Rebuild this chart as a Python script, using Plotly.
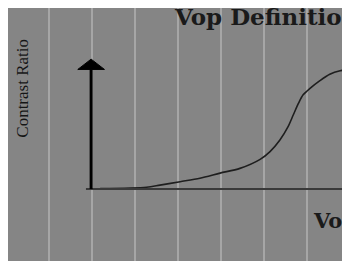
import plotly.graph_objects as go

# ---- data ----
voltage = [0.19, 1.27, 1.58, 2.05, 2.51, 2.98, 3.44, 3.91, 4.14, 4.37, 4.56,
           4.68, 4.80, 4.91, 5.07, 5.30, 5.53, 5.77, 6.0, 6.2]
contrast = [0.01, 0.04, 0.09, 0.17, 0.25, 0.37, 0.48, 0.69, 0.87, 1.14, 1.45,
            1.72, 1.99, 2.19, 2.34, 2.52, 2.67, 2.75, 2.78, 2.80]
title_text = "Vop Definition"
x_label = "Voltage"
y_label = "Contrast Ratio"

# ---- layout constants ----
X_RANGE = [-1.953, 6.186]
Y_RANGE = [-1.860, 4.209]
AXIS_X = -0.02
ARROW_TIP = 3.02
ARROW_BASE = 2.78
ARROW_HALF = 0.31
XAXIS_START = -0.14

BG = "#858585"
GRID = "#a6a6a6"

fig = go.Figure()
fig.add_trace(go.Scatter(
    x=voltage, y=contrast, mode="lines",
    line=dict(color="#1e1e1e", width=1.6, shape="spline", smoothing=0.8),
    hoverinfo="skip", showlegend=False,
))

fig.update_layout(
    width=350, height=261,
    margin=dict(l=0, r=0, t=0, b=0, pad=0),
    paper_bgcolor="white",
    plot_bgcolor=BG,
    showlegend=False,
    xaxis=dict(range=X_RANGE, showgrid=True, gridcolor=GRID, gridwidth=2,
               tick0=0, dtick=1, showticklabels=False, zeroline=False,
               showline=False, ticks=""),
    yaxis=dict(range=Y_RANGE, showgrid=False, showticklabels=False,
               zeroline=False, showline=False, ticks=""),
    shapes=[
        dict(type="line", xref="x", yref="y", x0=XAXIS_START, x1=X_RANGE[1],
             y0=0, y1=0, line=dict(color="#3a3a3a", width=2), layer="above"),
        dict(type="line", xref="x", yref="y", x0=AXIS_X, x1=AXIS_X,
             y0=0, y1=ARROW_BASE, line=dict(color="black", width=3), layer="above"),
        dict(type="path", xref="x", yref="y",
             path=f"M {AXIS_X-ARROW_HALF},{ARROW_BASE} L {AXIS_X},{ARROW_TIP} "
                  f"L {AXIS_X+ARROW_HALF},{ARROW_BASE} Z",
             fillcolor="black", line=dict(color="black", width=1), layer="above"),
    ],
    annotations=[
        dict(text=title_text, x=1.86, y=4.0, xref="x", yref="y",
             xanchor="left", yanchor="middle", showarrow=False,
             font=dict(family="DejaVu Serif", size=23, color="#1a1a1a", weight="bold")),
        dict(text=y_label, x=-1.62, y=2.34, xref="x", yref="y",
             xanchor="center", yanchor="middle", showarrow=False, textangle=-90,
             font=dict(family="Liberation Serif", size=17, color="#151515")),
        dict(text=x_label, x=5.1, y=-0.74, xref="x", yref="y",
             xanchor="left", yanchor="middle", showarrow=False,
             font=dict(family="DejaVu Serif", size=21, color="#1a1a1a", weight="bold")),
    ],
)

fig.write_html("out.html")
